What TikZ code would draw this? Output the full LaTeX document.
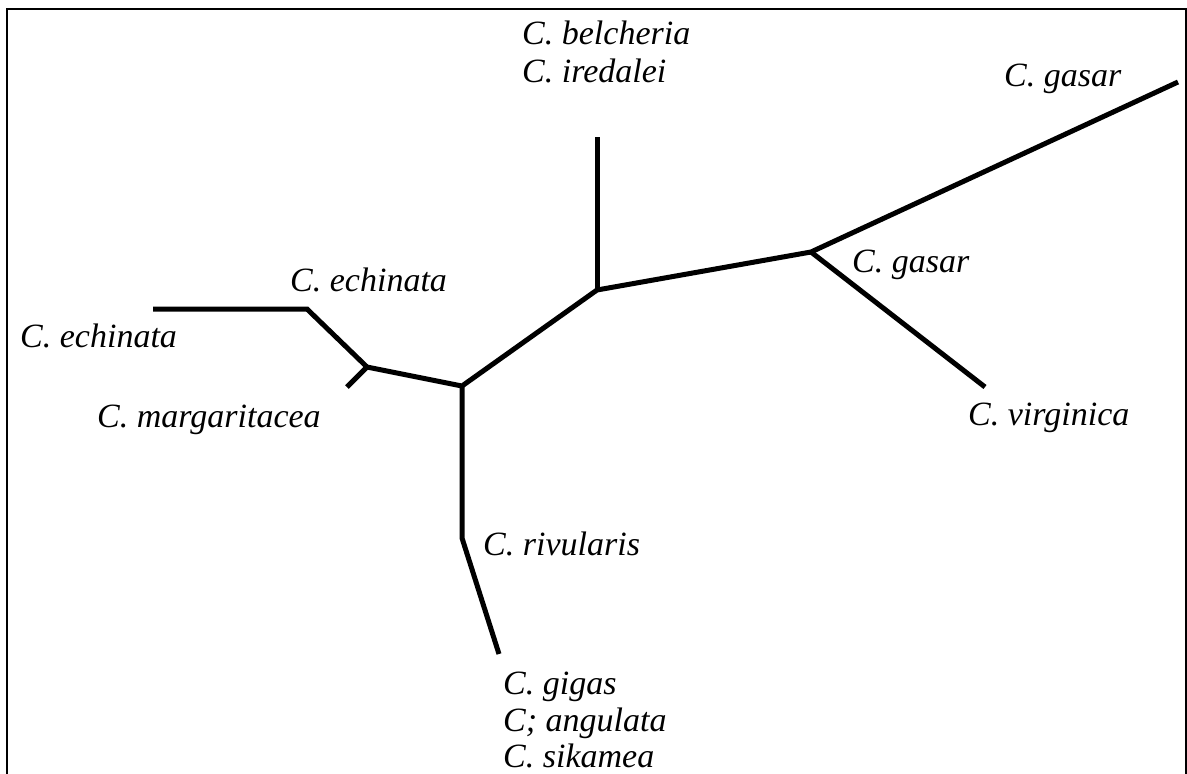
\documentclass[tikz,border=0pt]{standalone}
\usepackage{fontspec}
\setmainfont{Liberation Serif}
\begin{document}
\begin{tikzpicture}[x=1pt,y=-1pt,
  branch/.style={line width=5pt,line cap=butt,line join=miter},
  frame/.style={line width=2.5pt},
  lab/.style={anchor=base west,inner sep=0pt,font=\fontsize{34}{38}\selectfont\itshape}]
\useasboundingbox (0,0) rectangle (1187,774);
% frame (open at bottom)
\draw[frame] (7,774) -- (7,9) -- (1186,9) -- (1186,774);
% internal nodes and tips
\coordinate (A) at (462,386);
\coordinate (B) at (367,367);
\coordinate (Bm) at (347,387);
\coordinate (E1) at (307,309);
\coordinate (E2) at (153,309);
\coordinate (C) at (597,290);
\coordinate (Ct) at (597,137);
\coordinate (D) at (811,252);
\coordinate (G) at (1178,82);
\coordinate (V) at (985,387);
\coordinate (R) at (462,538);
\coordinate (Rg) at (499,654);
% branches
\draw[branch] (E2) -- (E1) -- (B) -- (A) -- (C) -- (D) -- (G);
\draw[branch] (B) -- (Bm);
\draw[branch] (C) -- (Ct);
\draw[branch] (D) -- (V);
\draw[branch] (A) -- (R) -- (Rg);
% labels
\node[lab] (l1) at (522,44) {C. belcheria};
\node[lab] (l2) at (522,82) {C. iredalei};
\node[lab] (l3) at (1004,86) {C. gasar};
\node[lab] (l4) at (852,272) {C. gasar};
\node[lab] (l5) at (968,425) {C. virginica};
\node[lab] (l6) at (290,291) {C. echinata};
\node[lab] (l7) at (20,347) {C. echinata};
\node[lab] (l8) at (97,427) {C. margaritacea};
\node[lab] (l9) at (483,555) {C. rivularis};
\node[lab] (l10) at (503,694) {C. gigas};
\node[lab] (l11) at (503,731) {C; angulata};
\node[lab] (l12) at (503,767) {C. sikamea};
\end{tikzpicture}
\end{document}
